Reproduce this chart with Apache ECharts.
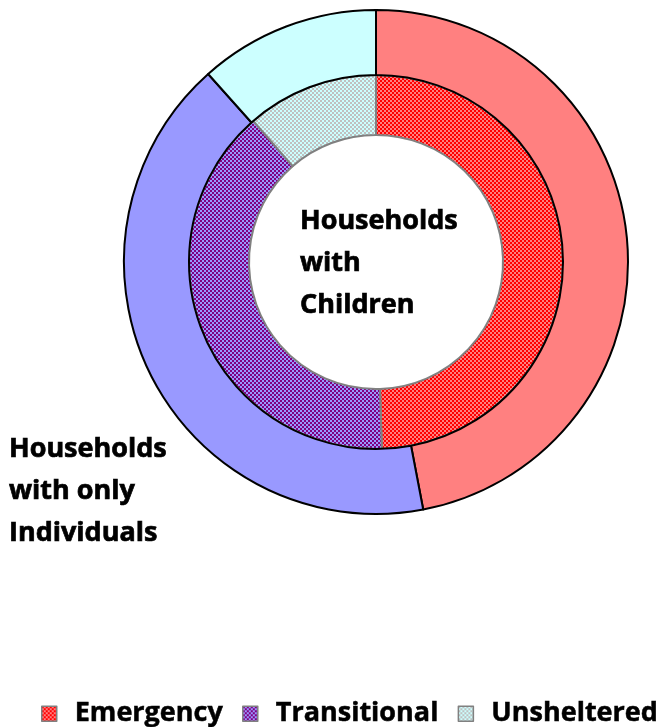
<!DOCTYPE html>
<html>
<head>
<meta charset="utf-8">
<script src="https://cdn.jsdelivr.net/npm/echarts@6/dist/echarts.min.js"></script>
<style>
html,body{margin:0;padding:0;background:#fff;}
#chart{width:669px;height:727px;}
</style>
</head>
<body>
<div id="chart"></div>
<script>
const categories = ['Emergency', 'Transitional', 'Unsheltered'];
const childrenValues = [49.5, 39.1, 11.4];
const individualsValues = [47.0, 41.4, 11.6];
const innerLabel = 'Households\nwith\nChildren';
const outerLabel = 'Households\nwith only\nIndividuals';

const solidColors = ['#FF8080', '#9999FF', '#CCFFFF'];
const patternFg = ['#FF0000', '#800080', '#C0C0C0'];

function makePattern(bg, fg) {
  const c = document.createElement('canvas');
  c.width = 4; c.height = 4;
  const ctx = c.getContext('2d');
  ctx.fillStyle = bg; ctx.fillRect(0, 0, 4, 4);
  ctx.fillStyle = fg; ctx.fillRect(0, 0, 2, 2); ctx.fillRect(2, 2, 2, 2);
  return { image: c, repeat: 'repeat' };
}

const chart = echarts.init(document.getElementById('chart'), null, { renderer: 'canvas', devicePixelRatio: 1 });
const font = '"Open Sans", "Liberation Sans", sans-serif';
const labelText = { fontFamily: font, fontSize: 27, fontWeight: 'bold', color: '#000', lineHeight: 42,
  textBorderColor: '#000', textBorderWidth: 0.7 };

chart.setOption({
  animation: false,
  backgroundColor: '#ffffff',
  title: [
    { text: innerLabel, left: 300, top: 200, padding: 0, textStyle: labelText },
    { text: outerLabel, left: 9, top: 428, padding: 0, textStyle: labelText }
  ],
  legend: {
    top: 700,
    left: 41,
    width: 628,
    padding: 0,
    itemWidth: 15,
    itemHeight: 15,
    itemGap: 19,
    icon: 'rect',
    itemStyle: { borderColor: '#808080', borderWidth: 1.5 },
    textStyle: { fontFamily: font, fontSize: 27, fontWeight: 'bold', color: '#000',
      textBorderColor: '#000', textBorderWidth: 0.5, padding: [0, 0, 0, 13] },
    data: categories
  },
  series: [
    {
      name: 'Households with Children',
      type: 'pie',
      center: [376, 262],
      radius: [127, 187],
      startAngle: 90,
      clockwise: true,
      label: { show: false },
      labelLine: { show: false },
      emphasis: { disabled: true },
      itemStyle: { borderColor: '#808080', borderWidth: 2 },
      data: categories.map((n, i) => ({ name: n, value: childrenValues[i],
        itemStyle: { color: makePattern(solidColors[i], patternFg[i]) } }))
    },
    {
      name: 'Households with only Individuals',
      type: 'pie',
      center: [376, 262],
      radius: [187, 252],
      startAngle: 90,
      clockwise: true,
      label: { show: false },
      labelLine: { show: false },
      emphasis: { disabled: true },
      itemStyle: { borderColor: '#000000', borderWidth: 2 },
      data: categories.map((n, i) => ({ name: n, value: individualsValues[i],
        itemStyle: { color: solidColors[i] } }))
    }
  ]
});
</script>
</body>
</html>
